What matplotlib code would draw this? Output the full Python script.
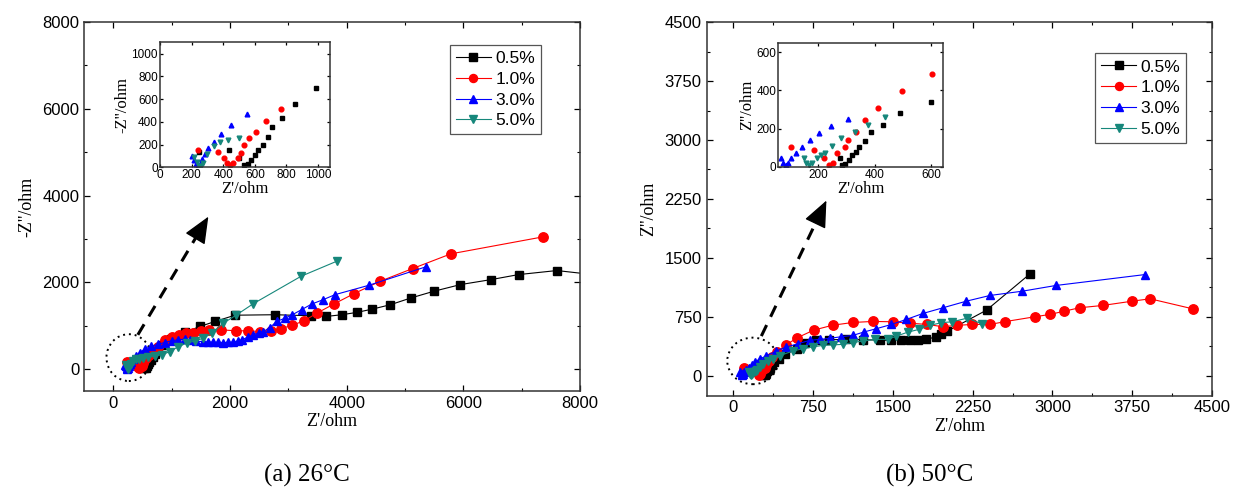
import matplotlib
import matplotlib.pyplot as plt
from matplotlib.patches import Ellipse
from matplotlib.ticker import MultipleLocator
import numpy as np

matplotlib.use('Agg')

labels = ['0.5%', '1.0%', '3.0%', '5.0%']
colors = ['#000000', '#ff0000', '#0000ff', '#16877b']
markers = ['s', 'o', '^', 'v']

# (a) 26 C  -- Z' (ohm), -Z'' (ohm)
a_x_05 = [244, 437, 503, 534, 556, 577, 598, 619, 650, 682, 710, 773, 853, 989, 1229, 1486, 1743, 2086, 2770,
          3386, 3648, 3916, 4172, 4441, 4750, 5097, 5491, 5950, 6475, 6948, 7603, 8400]
a_y_05 = [137, 150, 79, 20, 30, 64, 108, 152, 196, 268, 351, 435, 561, 702, 848, 980, 1096, 1240, 1251,
          1227, 1211, 1251, 1304, 1381, 1482, 1636, 1791, 1946, 2061, 2177, 2270, 2150]
a_x_10 = [239, 366, 405, 425, 445, 465, 492, 512, 534, 566, 608, 672, 766, 886, 1010, 1131, 1250, 1371, 1500,
          1634, 1843, 2105, 2309, 2519, 2697, 2867, 3057, 3273, 3490, 3779, 4127, 4572, 5130, 5786, 7374]
a_y_10 = [152, 137, 80, 40, 20, 40, 79, 130, 196, 254, 312, 409, 517, 672, 740, 788, 820, 840, 870,
          903, 903, 880, 880, 864, 880, 927, 1003, 1112, 1288, 1497, 1738, 2022, 2316, 2655, 3049]
a_x_30 = [204, 215, 228, 240, 252, 265, 282, 302, 340, 387, 450, 549, 650, 760, 880, 1000, 1114, 1230, 1315,
          1420, 1543, 1630, 1714, 1800, 1886, 1970, 2057, 2130, 2200, 2300, 2400, 2490, 2572, 2680, 2800,
          2940, 3069, 3230, 3400, 3600, 3800, 4380, 5354]
a_y_30 = [102, 60, 25, 10, 30, 70, 120, 167, 225, 289, 371, 468, 520, 570, 610, 650, 672, 690, 672,
          640, 632, 620, 616, 612, 609, 612, 616, 640, 672, 730, 788, 830, 864, 950, 1096,
          1170, 1251, 1370, 1497, 1600, 1714, 1930, 2354]
a_x_50 = [218, 232, 245, 258, 272, 300, 340, 380, 432, 503, 600, 715, 829, 972, 1114, 1257, 1400, 1543, 1686,
          1886, 2098, 2400, 3218, 3832]
a_y_50 = [93, 45, 15, 10, 40, 120, 190, 225, 240, 260, 270, 295, 330, 400, 517, 593, 648, 709, 825,
          1057, 1235, 1506, 2138, 2486]
# how many of the first (high frequency) points the inset shows
a_inset_n = [14, 13, 12, 10]

# (b) 50 C  -- Z' (ohm), Z'' (ohm)
b_x_05 = [276, 284, 296, 308, 319, 333, 345, 364, 387, 431, 489, 600, 671, 781, 900, 1063, 1220, 1377, 1487,
          1581, 1659, 1737, 1816, 1910, 1957, 2013, 2381, 2789]
b_y_05 = [45, 9, 14, 35, 62, 79, 102, 137, 181, 219, 281, 337, 423, 456, 460, 465, 460, 456, 452,
          452, 452, 452, 465, 499, 529, 570, 837, 1298]
b_x_10 = [103, 185, 220, 238, 252, 267, 294, 305, 334, 364, 413, 497, 602, 757, 934, 1125, 1312, 1498, 1665,
          1823, 1969, 2103, 2244, 2415, 2551, 2837, 2976, 3113, 3255, 3471, 3751, 3918, 4317]
b_y_10 = [102, 88, 44, 9, 20, 70, 105, 141, 184, 246, 307, 395, 486, 583, 645, 680, 693, 689, 670,
          655, 626, 643, 655, 655, 690, 753, 782, 824, 867, 896, 951, 981, 854]
b_x_30 = [68, 78, 86, 95, 103, 121, 144, 173, 202, 247, 305, 405, 499, 610, 718, 812, 906, 1016, 1126,
          1226, 1346, 1487, 1628, 1784, 1972, 2192, 2412, 2714, 3031, 3870]
b_y_30 = [44, 20, 9, 20, 44, 70, 105, 141, 176, 214, 251, 317, 368, 410, 452, 465, 478, 499, 516,
          558, 601, 655, 719, 795, 867, 951, 1023, 1077, 1150, 1289]
b_x_50 = [150, 158, 167, 180, 195, 210, 226, 249, 282, 329, 378, 436, 561, 655, 750, 843, 940, 1031, 1125,
          1220, 1330, 1455, 1534, 1643, 1747, 1847, 1957, 2057, 2200, 2341]
b_y_50 = [44, 20, 9, 20, 44, 62, 70, 109, 149, 184, 219, 258, 317, 347, 370, 389, 395, 402, 425,
          444, 465, 465, 507, 558, 592, 643, 677, 689, 735, 660]
b_inset_n = [12, 13, 11, 12]

series_a = [(a_x_05, a_y_05), (a_x_10, a_y_10), (a_x_30, a_y_30), (a_x_50, a_y_50)]
series_b = [(b_x_05, b_y_05), (b_x_10, b_y_10), (b_x_30, b_y_30), (b_x_50, b_y_50)]

SANS = 'Liberation Sans'
SERIF = 'Liberation Serif'


def style_axis(ax, fs, major_x, major_y, minor_x=None, minor_y=None):
    ax.tick_params(which='both', direction='in', top=True, right=True, labelsize=fs)
    ax.tick_params(which='major', length=4, width=0.9)
    ax.tick_params(which='minor', length=2.5, width=0.8)
    ax.xaxis.set_major_locator(MultipleLocator(major_x))
    ax.yaxis.set_major_locator(MultipleLocator(major_y))
    if minor_x:
        ax.xaxis.set_minor_locator(MultipleLocator(minor_x))
    if minor_y:
        ax.yaxis.set_minor_locator(MultipleLocator(minor_y))
    for lab in ax.get_xticklabels() + ax.get_yticklabels():
        lab.set_fontfamily(SANS)
    for sp in ax.spines.values():
        sp.set_linewidth(1.1)
        sp.set_color('#333333')


def draw_panel(fig, rect, inset_rect, series, inset_n, xlim, ylim, step, inset_xlim, inset_ylim, inset_step,
               ylabel, leg_anchor, circle, arrow):
    ax = fig.add_axes(rect)
    for (xs, ys), c, m, lab in zip(series, colors, markers, labels):
        ms = 6.8 if m == 'o' else 6.2
        ax.plot(xs, ys, color=c, lw=0.8, marker=m, ms=ms, mec=c, mfc=c, label=lab)
    ax.set_xlim(*xlim)
    ax.set_ylim(*ylim)
    style_axis(ax, 12, step, step, step / 2, step / 2)
    ax.set_xlabel("Z'/ohm", fontfamily=SERIF, fontsize=13, labelpad=2)
    ax.set_ylabel(ylabel, fontfamily=SERIF, fontsize=13, labelpad=5)

    # dotted circle round the origin and dashed arrow to the inset
    (cx, cy), w, h = circle
    ax.add_patch(Ellipse((cx, cy), w, h, fill=False, ls=(0, (1, 2)), lw=1.4, color='k'))
    (x0, y0), (x1, y1) = arrow
    fx = x0 + 0.84 * (x1 - x0)
    fy = y0 + 0.84 * (y1 - y0)
    ax.plot([x0, fx], [y0, fy], ls=(0, (4, 3)), lw=2.2, color='k')
    ax.annotate('', xy=(x1, y1), xytext=(fx, fy),
                arrowprops=dict(arrowstyle='-|>,head_length=0.7,head_width=0.3', color='k', lw=1,
                                mutation_scale=24))

    leg = ax.legend(loc='upper left', bbox_to_anchor=leg_anchor, bbox_transform=fig.transFigure,
                    borderaxespad=0, fancybox=False, edgecolor='#555555', framealpha=1,
                    prop={'family': SANS, 'size': 12.5}, handlelength=2.0, handletextpad=0.25,
                    labelspacing=0.32, borderpad=0.35, markerscale=0.85)
    leg.get_frame().set_linewidth(0.9)

    ins = fig.add_axes(inset_rect)
    for (xs, ys), n, c, m in zip(series, inset_n, colors, markers):
        ins.plot(xs[:n], ys[:n], ls='none', marker=m, ms=3.4, mec=c, mfc=c)
    ins.set_xlim(*inset_xlim)
    ins.set_ylim(*inset_ylim)
    style_axis(ins, 8.5, inset_step[0], inset_step[1])
    ins.tick_params(which='major', length=2.5, pad=1.5)
    ins.set_xlabel("Z'/ohm", fontfamily=SERIF, fontsize=12, labelpad=0)
    ins.set_ylabel(ylabel, fontfamily=SERIF, fontsize=12, labelpad=1)
    return ax


fig = plt.figure(figsize=(12.38, 4.97), dpi=100)

draw_panel(fig, [0.068, 0.214, 0.4005, 0.7415], [0.1292, 0.6634, 0.1373, 0.2515], series_a, a_inset_n,
           (-500, 8000), (-500, 8000), 2000, (0, 1075), (0, 1100), (200, 200),
           "-Z''/ohm", (0.3635, 0.9095),
           ((266, 262), 768, 1080), ((420, 788), (1653, 3568)))

draw_panel(fig, [0.5708, 0.204, 0.4082, 0.7517], [0.6287, 0.6646, 0.1328, 0.2495], series_b, b_inset_n,
           (-250, 4500), (-250, 4500), 750, (60, 640), (0, 650), (200, 200),
           "Z''/ohm", (0.8848, 0.8928),
           ((183, 191), 478, 592), ((264, 507), (887, 2262)))

fig.text(0.248, 0.044, '(a) 26°C', ha='center', va='center', fontfamily=SERIF, fontsize=18)
fig.text(0.751, 0.044, '(b) 50°C', ha='center', va='center', fontfamily=SERIF, fontsize=18)

plt.savefig('out.png', dpi=100)
